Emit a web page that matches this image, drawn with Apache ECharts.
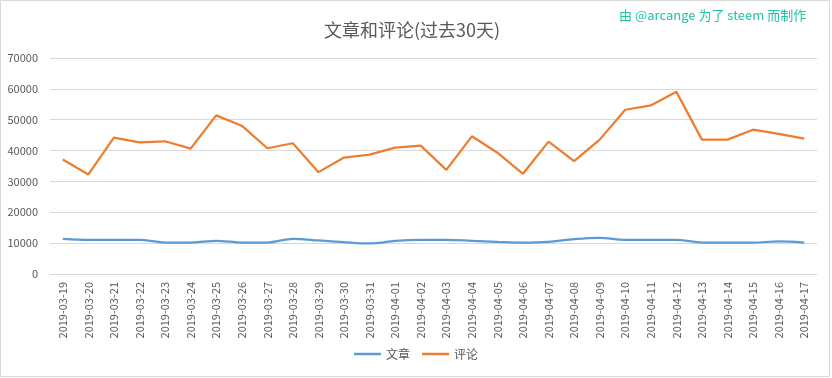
<!DOCTYPE html>
<html>
<head>
<meta charset="utf-8">
<script src="https://cdn.jsdelivr.net/npm/echarts@6/dist/echarts.min.js"></script>
<style>
	html, body { margin: 0; padding: 0; background: #fff; }
	#chart { width: 832px; height: 378px; }
</style>
</head>
<body>
<div id="chart"></div>
<script>
	// 日期
	var dates = ['2019-03-19', '2019-03-20', '2019-03-21', '2019-03-22', '2019-03-23', '2019-03-24', '2019-03-25',
		'2019-03-26', '2019-03-27', '2019-03-28', '2019-03-29', '2019-03-30', '2019-03-31', '2019-04-01',
		'2019-04-02', '2019-04-03', '2019-04-04', '2019-04-05', '2019-04-06', '2019-04-07', '2019-04-08',
		'2019-04-09', '2019-04-10', '2019-04-11', '2019-04-12', '2019-04-13', '2019-04-14', '2019-04-15',
		'2019-04-16', '2019-04-17'];
	// 文章
	var posts = [11400, 11080, 11080, 11080, 10200, 10200, 10750, 10200, 10200, 11400,
		10860, 10320, 9900, 10750, 11080, 11080, 10750, 10430, 10200, 10430,
		11290, 11720, 11080, 11080, 11080, 10200, 10200, 10200, 10540, 10200];
	// 评论
	var comments = [37100, 32260, 44190, 42690, 43010, 40650, 51400, 48060, 40750, 42370,
		33010, 37740, 38710, 40970, 41610, 33760, 44620, 39300, 32470, 42900,
		36560, 43550, 53230, 54620, 59030, 43550, 43550, 46770, 45380, 43870];
	var yTicks = [0, 10000, 20000, 30000, 40000, 50000, 60000, 70000];

	var chart = echarts.init(document.getElementById('chart'));
	var font = '"Noto Sans CJK SC", "Noto Sans", sans-serif';
	var option = {
		textStyle: { fontFamily: font },
		title: {
			text: '文章和评论(过去30天)',
			left: 407,
			textAlign: 'center',
			top: 16,
			textStyle: { fontSize: 18, fontWeight: 'normal', color: '#595959', fontFamily: font }
		},
		graphic: [{
			type: 'rect',
			shape: { x: 0.5, y: 0.5, width: 829, height: 376 },
			style: { fill: 'none', stroke: '#d9d9d9', lineWidth: 1 },
			silent: true
		}, {
			type: 'text',
			left: 619,
			top: 9,
			style: {
				text: '由 @arcange 为了 steem 而制作',
				fill: '#22c2a8',
				fontSize: 13,
				fontFamily: font
			}
		}],
		legend: {
			bottom: 13,
			left: 'center',
			icon: 'rect',
			itemWidth: 27,
			itemHeight: 2.5,
			itemGap: 12,
			textStyle: { fontSize: 12, color: '#595959', fontFamily: font },
			data: ['文章', '评论']
		},
		grid: { left: 50, right: 15, top: 58, bottom: 104, containLabel: false },
		xAxis: {
			type: 'category',
			boundaryGap: true,
			data: dates,
			axisLine: { lineStyle: { color: '#d9d9d9' } },
			axisTick: { show: false },
			axisLabel: { rotate: 90, fontSize: 11, color: '#595959', margin: 8, interval: 0 }
		},
		yAxis: {
			type: 'value',
			min: yTicks[0],
			max: yTicks[yTicks.length - 1],
			interval: 10000,
			axisLine: { show: false },
			axisTick: { show: false },
			splitLine: { lineStyle: { color: '#d9d9d9' } },
			axisLabel: {
				fontSize: 11,
				color: '#595959',
				margin: 12,
				formatter: function(v) { return String(v); }
			}
		},
		series: [{
			name: '文章',
			type: 'line',
			data: posts,
			symbol: 'none',
			smooth: 0.3,
			lineStyle: { width: 2.25, color: '#5b9bd5' },
			itemStyle: { color: '#5b9bd5' }
		}, {
			name: '评论',
			type: 'line',
			data: comments,
			symbol: 'none',
			lineStyle: { width: 2.25, color: '#ed7d31' },
			itemStyle: { color: '#ed7d31' }
		}]
	};
	chart.setOption(option);
	window.addEventListener('resize', function() {
		chart.resize();
	});
</script>
</body>
</html>
